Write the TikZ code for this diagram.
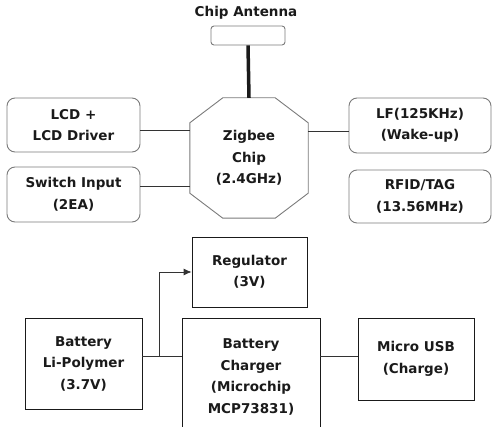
\documentclass[tikz,border=0pt]{standalone}
\usepackage{fontspec}
\usepackage{tikz}
\usetikzlibrary{arrows.meta}
\newfontfamily\lbl{DejaVu Sans Bold}
\definecolor{Ink}{HTML}{1A1A1A}
\definecolor{Edge}{HTML}{7A7A7A}
\definecolor{Wire}{HTML}{333333}

\begin{document}
\begin{tikzpicture}[x=1pt,y=-1pt,
  txt/.style={font=\lbl\fontsize{13.5}{21.5}\selectfont,align=center,text=Ink},
  rbox/.style={txt,draw=Edge,line width=0.9pt,rounded corners=8pt,inner sep=0pt},
  sbox/.style={txt,draw=Ink,line width=0.8pt,inner sep=0pt},
  wire/.style={Wire,line width=0.8pt}]
  \clip (0,0) rectangle (492,427);
  \node[txt] (antlab) at (246,13) {Chip Antenna};
  \node[draw=Edge,line width=0.9pt,rounded corners=3pt,minimum width=74pt,minimum height=19pt] (ant) at (248,35.5) {};
  \node[txt,minimum width=118pt,minimum height=120pt,inner sep=0pt] (zig) at (249,158) {Zigbee\\Chip\\(2.4GHz)};
  \draw[Edge,line width=0.9pt] ([xshift=33pt]zig.north west) -- ([xshift=-33pt]zig.north east)
    -- ([yshift=-25pt]zig.north east) -- ([yshift=25pt]zig.south east)
    -- ([xshift=-33pt]zig.south east) -- ([xshift=33pt]zig.south west)
    -- ([yshift=25pt]zig.south west) -- ([yshift=-25pt]zig.north west) -- cycle;
  \draw[Ink,line width=3.5pt] (ant.south) -- (zig.north);
  \foreach \n/\x/\y/\w/\h/\t in {
    lcd/73.5/125/133/54/{LCD +\\LCD Driver},
    sw/73.5/194.5/133/55/{Switch Input\\(2EA)},
    lf/420/125.5/142/55/{LF(125KHz)\\(Wake-up)},
    rfid/420/196.5/142/53/{RFID/TAG\\(13.56MHz)}} {
    \node[rbox,minimum width=\w pt,minimum height=\h pt] (\n) at (\x,\y) {\t};
  }
  \foreach \n/\x/\y/\w/\h/\t in {
    reg/249.5/272/115/70/{Regulator\\(3V)},
    bat/83.5/363.5/117/91/{Battery\\Li-Polymer\\(3.7V)},
    chg/251/377/138/118/{Battery\\Charger\\(Microchip\\MCP73831)},
    usb/416/359/116/82/{Micro USB\\(Charge)}} {
    \node[sbox,minimum width=\w pt,minimum height=\h pt] (\n) at (\x,\y) {\t};
  }
  \coordinate (lcdw) at ([yshift=-5pt]lcd.east);
  \coordinate (sww) at ([yshift=8.5pt]sw.east);
  \coordinate (lfw) at ([yshift=-5.5pt]lf.west);
  \draw[wire] (lcdw) -- (lcdw -| zig.west);
  \draw[wire] (sww) -- (sww -| zig.west);
  \draw[wire] (lfw) -- (lfw -| zig.east);
  \coordinate (batr) at ([yshift=7.5pt]bat.east);
  \coordinate (jn) at ([xshift=17pt]batr);
  \coordinate (chgr) at ([yshift=21pt]chg.east);
  \draw[wire] (batr) -- (batr -| chg.west);
  \draw[wire,-{Latex[length=8pt,width=7pt]}] (jn) |- (reg.west);
  \draw[wire] (chgr) -- (chgr -| usb.west);
\end{tikzpicture}
\end{document}
